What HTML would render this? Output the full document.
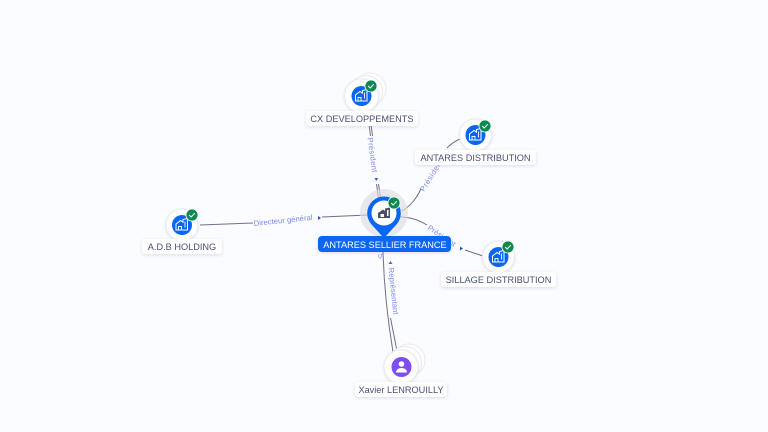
<!DOCTYPE html>
<html><head><meta charset="utf-8"><style>
html,body{margin:0;padding:0;width:768px;height:432px;overflow:hidden;background:#fbfcff}
svg{display:block}
text{font-family:"Liberation Sans",sans-serif}
.l{font-size:9.2px;fill:#4a4e78;text-anchor:middle}
.e{font-size:7.6px;fill:#7a87ec}
.p{fill:none;stroke:#6d7088;stroke-width:1}
.lb{fill:#fff;filter:url(#s)}
.c{fill:#fff;stroke:#e9e9ee;stroke-width:1}
</style></head><body>
<svg width="768" height="432" viewBox="0 0 768 432" xmlns="http://www.w3.org/2000/svg">
<defs>
<filter id="s" x="-20%" y="-50%" width="140%" height="200%"><feDropShadow dx="0" dy="1" stdDeviation="1.5" flood-color="#8088a8" flood-opacity=".28"/></filter>
<filter id="c" x="-30%" y="-30%" width="160%" height="160%"><feDropShadow dx="0" dy="0.5" stdDeviation="1" flood-color="#8088a8" flood-opacity=".25"/></filter>
<g id="h"><path d="M-6-1 -1.500-4.500 1-2.800V-5.500L5.500-6.500V5H-6Z" fill="none" stroke="#fff" stroke-width="1"/><path d="M-3.500 5V1.500H-.5V5M3-3.500V2.500" fill="none" stroke="#fff" stroke-width=".9"/></g>
<g id="b"><circle r="6" fill="#0d8a4f" stroke="#fff" stroke-width=".8"/><path d="M-2.800 0-.8 2 2.800-1.800" fill="none" stroke="#fff" stroke-width="1"/></g>
</defs>

<!-- edges -->
<path class="p" d="M369 124 370.500 136"/><path class="p" d="M371 124 372.500 136"/>
<path class="p" d="M376.500 184 378.500 198"/><path class="p" d="M378.500 184 380.500 198"/>
<path class="p" d="M200 225 253 223"/>
<path class="p" d="M322 217 368 215"/>
<path class="p" d="M402 211C412 205 417 197 421 189"/>
<path class="p" d="M447 148C451 144 455 141 460 139"/>
<path class="p" d="M400 217C410 217 419 220 427 225"/>
<path class="p" d="M465 250 483 256"/>
<path class="p" d="M383 252C384 285 388 322 393 352"/>
<path class="p" d="M390.500 318 397 351"/>

<!-- edge labels -->
<text class="e" transform="translate(367.500 138) rotate(82)" textLength="35">Président</text>
<text class="e" transform="translate(254 226) rotate(-6)" textLength="59">Directeur général</text>
<text class="e" transform="translate(424 192) rotate(-58)" textLength="36">Président</text>
<text class="e" transform="translate(427 229) rotate(34)" textLength="32">Président</text>
<text class="e" transform="translate(388.500 268) rotate(84)" textLength="47">Représentant</text>
<text class="e" transform="translate(378 254) rotate(80)" font-size="6">S</text>
<path d="M374.500 178h3.500l-1.700 3z" fill="#2f55c8"/>
<path d="M318 216v4l3-2z" fill="#2f55c8"/>
<path d="M460 246.500v4l3-2z" fill="#2f55c8"/>
<path d="M388.500 264h4l-2-3z" fill="#6a55d8"/>

<!-- CX -->
<circle class="c" cx="370" cy="89" r="16"/><circle class="c" cx="366" cy="92" r="16.500"/><circle class="c" cx="361.500" cy="96" r="17" filter="url(#c)"/>
<circle cx="361.500" cy="96" r="10" fill="#0a66f0"/><use href="#h" x="361.500" y="96"/><use href="#b" x="371" y="86"/>
<rect class="lb" x="306" y="111" width="112" height="15" rx="3"/><text class="l" x="362" y="122">CX DEVELOPPEMENTS</text>

<!-- Antares distribution -->
<circle class="c" cx="475.500" cy="135" r="16" filter="url(#c)"/><circle cx="475.500" cy="135" r="10" fill="#0a66f0"/><use href="#h" x="475.500" y="135"/><use href="#b" x="485" y="126"/>
<rect class="lb" x="415" y="150" width="121" height="15" rx="3"/><text class="l" x="475.500" y="161">ANTARES DISTRIBUTION</text>

<!-- Sillage -->
<circle class="c" cx="498.500" cy="257" r="16" filter="url(#c)"/><circle cx="498.500" cy="257" r="10" fill="#0a66f0"/><use href="#h" x="498.500" y="257"/><use href="#b" x="508" y="247"/>
<rect class="lb" x="441" y="272" width="115" height="15" rx="3"/><text class="l" x="498.500" y="283">SILLAGE DISTRIBUTION</text>

<!-- ADB -->
<circle class="c" cx="182" cy="225" r="16" filter="url(#c)"/><circle cx="182" cy="225" r="10" fill="#0a66f0"/><use href="#h" x="182" y="225"/><use href="#b" x="192" y="215"/>
<rect class="lb" x="142" y="239" width="80" height="15" rx="3"/><text class="l" x="182" y="250">A.D.B HOLDING</text>

<!-- Xavier -->
<circle class="c" cx="409" cy="360" r="16"/><circle class="c" cx="405" cy="363" r="16.500"/><circle class="c" cx="401" cy="367" r="17" filter="url(#c)"/>
<circle cx="401.500" cy="367" r="10" fill="#7c4df0"/>
<circle cx="401.500" cy="364" r="2.800" fill="#fff"/><path d="M396 372.500c0-6 11-6 11 0z" fill="#fff"/>
<rect class="lb" x="355" y="382" width="92" height="15" rx="3"/><text class="l" x="401" y="393">Xavier LENROUILLY</text>

<!-- Main -->
<circle cx="384" cy="213" r="24" fill="#dcdde2" fill-opacity=".65"/>
<path d="M384 238 371.500 224.500A16.800 16.800 0 1 1 396.500 224.500Z" fill="#0a66f0"/>
<circle cx="384" cy="213" r="12.500" fill="#fff"/>
<path d="M378 213 383 209.500 385 211V208.500L390 207.500V218H378Z" fill="#4a4f66"/>
<rect x="380.500" y="214" width="3.500" height="3" fill="#fff"/><rect x="387" y="210" width="1.500" height="6" fill="#fff"/>
<use href="#b" x="394" y="203"/>
<rect x="318" y="236" width="133" height="16" rx="4" fill="#0a66f0" filter="url(#s)"/>
<text x="385" y="248" font-size="9.200" fill="#fff" text-anchor="middle">ANTARES SELLIER FRANCE</text>
</svg>
</body></html>
